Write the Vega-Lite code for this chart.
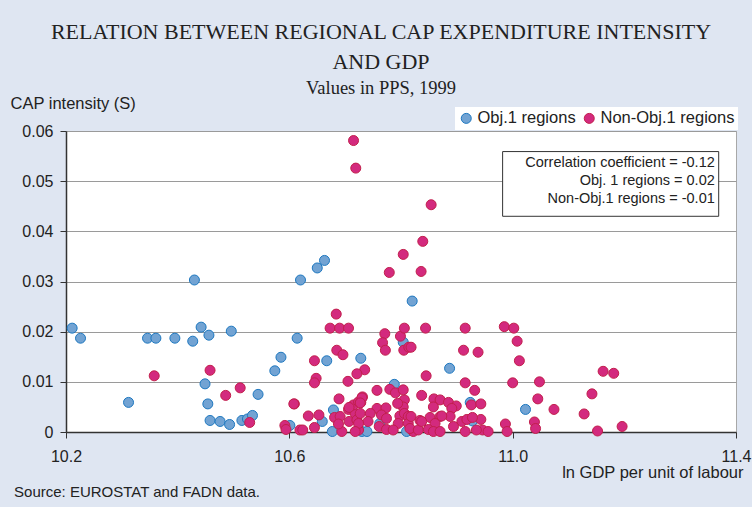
{
  "$schema": "https://vega.github.io/schema/vega-lite/v6.json",
  "width": 670,
  "height": 301,
  "autosize": {"type": "none"},
  "padding": {"left": 66, "top": 131, "right": 16, "bottom": 75},
  "background": "#dfe6f2",
  "title": {
    "text": ["RELATION BETWEEN REGIONAL CAP EXPENDITURE INTENSITY", "AND GDP"],
    "subtitle": "Values in PPS, 1999",
    "font": "Liberation Serif",
    "fontSize": 22,
    "fontWeight": "normal",
    "color": "#222222",
    "subtitleFont": "Liberation Serif",
    "subtitleFontSize": 18.5,
    "subtitleColor": "#222222",
    "lineHeight": 30,
    "subtitlePadding": 5,
    "anchor": "middle",
    "frame": "group",
    "dx": -20,
    "offset": -3
  },
  "config": {
    "font": "Liberation Sans",
    "view": {"stroke": "#a8a8a8", "fill": "white"},
    "axis": {
      "domainColor": "#333333",
      "domainWidth": 1.5,
      "tickColor": "#333333",
      "tickSize": 6,
      "labelFontSize": 16,
      "labelColor": "#222222",
      "titleFontSize": 16,
      "titleFontWeight": "normal",
      "titleColor": "#222222",
      "gridColor": "#9a9a9a",
      "gridWidth": 1
    }
  },
  "encoding": {
    "x": {
      "field": "x",
      "type": "quantitative",
      "scale": {"domain": [10.2, 11.4], "zero": false, "nice": false},
      "axis": {
        "values": [10.2, 10.6, 11.0, 11.4],
        "format": ".1f",
        "grid": false,
        "labelFlush": false,
        "labelPadding": 10,
        "title": "ln GDP per unit of labour",
        "titleFontSize": 16.5,
        "titleAnchor": "end",
        "titleAlign": "right",
        "titleBaseline": "alphabetic",
        "titleX": 677,
        "titleY": 45
      }
    },
    "y": {
      "field": "y",
      "type": "quantitative",
      "scale": {"domain": [0, 0.06], "nice": false},
      "axis": {
        "values": [0, 0.01, 0.02, 0.03, 0.04, 0.05, 0.06],
        "format": ".2~f",
        "grid": true,
        "labelPadding": 7,
        "labelFlush": false,
        "title": "CAP intensity (S)",
        "titleAngle": 0,
        "titleFontSize": 16.5,
        "titleAlign": "left",
        "titleBaseline": "alphabetic",
        "titleAnchor": "end",
        "titleX": -56,
        "titleY": -23
      }
    }
  },
  "layer": [
    {
      "data": {"values": [{"x": 10.982, "x2": 11.369, "y": 0.0559, "y2": 0.0430}]},
      "mark": {"type": "rect", "fill": "white", "stroke": "#333333", "strokeWidth": 1},
      "encoding": {
        "x2": {"field": "x2"},
        "y2": {"field": "y2"}
      }
    },
    {
      "data": {"values": [
        {"x": 10.211, "y": 0.0207, "group": "Obj.1 regions"},
        {"x": 10.226, "y": 0.0187, "group": "Obj.1 regions"},
        {"x": 10.312, "y": 0.0059, "group": "Obj.1 regions"},
        {"x": 10.346, "y": 0.0187, "group": "Obj.1 regions"},
        {"x": 10.361, "y": 0.0187, "group": "Obj.1 regions"},
        {"x": 10.395, "y": 0.0187, "group": "Obj.1 regions"},
        {"x": 10.427, "y": 0.0181, "group": "Obj.1 regions"},
        {"x": 10.430, "y": 0.0303, "group": "Obj.1 regions"},
        {"x": 10.442, "y": 0.0209, "group": "Obj.1 regions"},
        {"x": 10.456, "y": 0.0193, "group": "Obj.1 regions"},
        {"x": 10.496, "y": 0.0201, "group": "Obj.1 regions"},
        {"x": 10.449, "y": 0.0096, "group": "Obj.1 regions"},
        {"x": 10.454, "y": 0.0056, "group": "Obj.1 regions"},
        {"x": 10.458, "y": 0.0023, "group": "Obj.1 regions"},
        {"x": 10.476, "y": 0.0021, "group": "Obj.1 regions"},
        {"x": 10.493, "y": 0.0015, "group": "Obj.1 regions"},
        {"x": 10.515, "y": 0.0023, "group": "Obj.1 regions"},
        {"x": 10.525, "y": 0.0026, "group": "Obj.1 regions"},
        {"x": 10.534, "y": 0.0033, "group": "Obj.1 regions"},
        {"x": 10.544, "y": 0.0075, "group": "Obj.1 regions"},
        {"x": 10.574, "y": 0.0122, "group": "Obj.1 regions"},
        {"x": 10.585, "y": 0.0149, "group": "Obj.1 regions"},
        {"x": 10.614, "y": 0.0187, "group": "Obj.1 regions"},
        {"x": 10.620, "y": 0.0303, "group": "Obj.1 regions"},
        {"x": 10.601, "y": 0.0013, "group": "Obj.1 regions"},
        {"x": 10.650, "y": 0.0327, "group": "Obj.1 regions"},
        {"x": 10.663, "y": 0.0342, "group": "Obj.1 regions"},
        {"x": 10.667, "y": 0.0142, "group": "Obj.1 regions"},
        {"x": 10.728, "y": 0.0147, "group": "Obj.1 regions"},
        {"x": 10.820, "y": 0.0261, "group": "Obj.1 regions"},
        {"x": 10.804, "y": 0.0179, "group": "Obj.1 regions"},
        {"x": 10.887, "y": 0.0127, "group": "Obj.1 regions"},
        {"x": 10.788, "y": 0.0095, "group": "Obj.1 regions"},
        {"x": 10.924, "y": 0.0059, "group": "Obj.1 regions"},
        {"x": 10.928, "y": 0.0022, "group": "Obj.1 regions"},
        {"x": 10.679, "y": 0.0044, "group": "Obj.1 regions"},
        {"x": 10.659, "y": 0.0021, "group": "Obj.1 regions"},
        {"x": 10.677, "y": 0.0001, "group": "Obj.1 regions"},
        {"x": 10.730, "y": 0.0001, "group": "Obj.1 regions"},
        {"x": 10.739, "y": 0.0001, "group": "Obj.1 regions"},
        {"x": 10.762, "y": 0.0017, "group": "Obj.1 regions"},
        {"x": 10.810, "y": 0.0001, "group": "Obj.1 regions"},
        {"x": 11.023, "y": 0.0045, "group": "Obj.1 regions"},
        {"x": 10.358, "y": 0.0112, "group": "Non-Obj.1 regions"},
        {"x": 10.458, "y": 0.0123, "group": "Non-Obj.1 regions"},
        {"x": 10.486, "y": 0.0073, "group": "Non-Obj.1 regions"},
        {"x": 10.512, "y": 0.0088, "group": "Non-Obj.1 regions"},
        {"x": 10.529, "y": 0.0019, "group": "Non-Obj.1 regions"},
        {"x": 10.592, "y": 0.0013, "group": "Non-Obj.1 regions"},
        {"x": 10.594, "y": 0.0005, "group": "Non-Obj.1 regions"},
        {"x": 10.609, "y": 0.0056, "group": "Non-Obj.1 regions"},
        {"x": 10.619, "y": 0.0004, "group": "Non-Obj.1 regions"},
        {"x": 10.715, "y": 0.0581, "group": "Non-Obj.1 regions"},
        {"x": 10.719, "y": 0.0526, "group": "Non-Obj.1 regions"},
        {"x": 10.854, "y": 0.0453, "group": "Non-Obj.1 regions"},
        {"x": 10.839, "y": 0.0380, "group": "Non-Obj.1 regions"},
        {"x": 10.804, "y": 0.0354, "group": "Non-Obj.1 regions"},
        {"x": 10.779, "y": 0.0318, "group": "Non-Obj.1 regions"},
        {"x": 10.836, "y": 0.0320, "group": "Non-Obj.1 regions"},
        {"x": 10.684, "y": 0.0235, "group": "Non-Obj.1 regions"},
        {"x": 10.673, "y": 0.0207, "group": "Non-Obj.1 regions"},
        {"x": 10.690, "y": 0.0207, "group": "Non-Obj.1 regions"},
        {"x": 10.706, "y": 0.0207, "group": "Non-Obj.1 regions"},
        {"x": 10.771, "y": 0.0196, "group": "Non-Obj.1 regions"},
        {"x": 10.799, "y": 0.0191, "group": "Non-Obj.1 regions"},
        {"x": 10.806, "y": 0.0207, "group": "Non-Obj.1 regions"},
        {"x": 10.844, "y": 0.0207, "group": "Non-Obj.1 regions"},
        {"x": 10.915, "y": 0.0207, "group": "Non-Obj.1 regions"},
        {"x": 10.767, "y": 0.0178, "group": "Non-Obj.1 regions"},
        {"x": 10.772, "y": 0.0163, "group": "Non-Obj.1 regions"},
        {"x": 10.805, "y": 0.0163, "group": "Non-Obj.1 regions"},
        {"x": 10.814, "y": 0.0169, "group": "Non-Obj.1 regions"},
        {"x": 10.818, "y": 0.0169, "group": "Non-Obj.1 regions"},
        {"x": 10.912, "y": 0.0163, "group": "Non-Obj.1 regions"},
        {"x": 10.938, "y": 0.0159, "group": "Non-Obj.1 regions"},
        {"x": 10.685, "y": 0.0163, "group": "Non-Obj.1 regions"},
        {"x": 10.696, "y": 0.0154, "group": "Non-Obj.1 regions"},
        {"x": 10.645, "y": 0.0142, "group": "Non-Obj.1 regions"},
        {"x": 10.735, "y": 0.0124, "group": "Non-Obj.1 regions"},
        {"x": 10.721, "y": 0.0116, "group": "Non-Obj.1 regions"},
        {"x": 10.648, "y": 0.0107, "group": "Non-Obj.1 regions"},
        {"x": 10.645, "y": 0.0098, "group": "Non-Obj.1 regions"},
        {"x": 10.705, "y": 0.0101, "group": "Non-Obj.1 regions"},
        {"x": 10.845, "y": 0.0112, "group": "Non-Obj.1 regions"},
        {"x": 10.915, "y": 0.0098, "group": "Non-Obj.1 regions"},
        {"x": 10.932, "y": 0.0083, "group": "Non-Obj.1 regions"},
        {"x": 10.608, "y": 0.0056, "group": "Non-Obj.1 regions"},
        {"x": 10.689, "y": 0.0066, "group": "Non-Obj.1 regions"},
        {"x": 10.757, "y": 0.0083, "group": "Non-Obj.1 regions"},
        {"x": 10.780, "y": 0.0085, "group": "Non-Obj.1 regions"},
        {"x": 10.790, "y": 0.0078, "group": "Non-Obj.1 regions"},
        {"x": 10.837, "y": 0.0073, "group": "Non-Obj.1 regions"},
        {"x": 10.859, "y": 0.0066, "group": "Non-Obj.1 regions"},
        {"x": 10.870, "y": 0.0064, "group": "Non-Obj.1 regions"},
        {"x": 10.885, "y": 0.0059, "group": "Non-Obj.1 regions"},
        {"x": 10.899, "y": 0.0052, "group": "Non-Obj.1 regions"},
        {"x": 10.926, "y": 0.0054, "group": "Non-Obj.1 regions"},
        {"x": 10.943, "y": 0.0056, "group": "Non-Obj.1 regions"},
        {"x": 10.985, "y": 0.0210, "group": "Non-Obj.1 regions"},
        {"x": 11.002, "y": 0.0207, "group": "Non-Obj.1 regions"},
        {"x": 11.008, "y": 0.0181, "group": "Non-Obj.1 regions"},
        {"x": 11.012, "y": 0.0142, "group": "Non-Obj.1 regions"},
        {"x": 11.000, "y": 0.0098, "group": "Non-Obj.1 regions"},
        {"x": 11.048, "y": 0.0100, "group": "Non-Obj.1 regions"},
        {"x": 11.045, "y": 0.0066, "group": "Non-Obj.1 regions"},
        {"x": 11.074, "y": 0.0045, "group": "Non-Obj.1 regions"},
        {"x": 11.039, "y": 0.0020, "group": "Non-Obj.1 regions"},
        {"x": 11.041, "y": 0.0007, "group": "Non-Obj.1 regions"},
        {"x": 10.987, "y": 0.0016, "group": "Non-Obj.1 regions"},
        {"x": 10.990, "y": 0.0001, "group": "Non-Obj.1 regions"},
        {"x": 10.943, "y": 0.0025, "group": "Non-Obj.1 regions"},
        {"x": 10.946, "y": 0.0004, "group": "Non-Obj.1 regions"},
        {"x": 10.956, "y": 0.0001, "group": "Non-Obj.1 regions"},
        {"x": 11.142, "y": 0.0076, "group": "Non-Obj.1 regions"},
        {"x": 11.128, "y": 0.0036, "group": "Non-Obj.1 regions"},
        {"x": 11.162, "y": 0.0121, "group": "Non-Obj.1 regions"},
        {"x": 11.181, "y": 0.0117, "group": "Non-Obj.1 regions"},
        {"x": 11.152, "y": 0.0002, "group": "Non-Obj.1 regions"},
        {"x": 11.196, "y": 0.0011, "group": "Non-Obj.1 regions"},
        {"x": 10.634, "y": 0.0032, "group": "Non-Obj.1 regions"},
        {"x": 10.653, "y": 0.0034, "group": "Non-Obj.1 regions"},
        {"x": 10.624, "y": 0.0004, "group": "Non-Obj.1 regions"},
        {"x": 10.645, "y": 0.0009, "group": "Non-Obj.1 regions"},
        {"x": 10.694, "y": 0.0001, "group": "Non-Obj.1 regions"},
        {"x": 10.681, "y": 0.0029, "group": "Non-Obj.1 regions"},
        {"x": 10.691, "y": 0.0031, "group": "Non-Obj.1 regions"},
        {"x": 10.688, "y": 0.0016, "group": "Non-Obj.1 regions"},
        {"x": 10.706, "y": 0.0045, "group": "Non-Obj.1 regions"},
        {"x": 10.718, "y": 0.0037, "group": "Non-Obj.1 regions"},
        {"x": 10.707, "y": 0.0021, "group": "Non-Obj.1 regions"},
        {"x": 10.721, "y": 0.0024, "group": "Non-Obj.1 regions"},
        {"x": 10.724, "y": 0.0004, "group": "Non-Obj.1 regions"},
        {"x": 10.715, "y": 0.0054, "group": "Non-Obj.1 regions"},
        {"x": 10.724, "y": 0.0060, "group": "Non-Obj.1 regions"},
        {"x": 10.731, "y": 0.0070, "group": "Non-Obj.1 regions"},
        {"x": 10.728, "y": 0.0059, "group": "Non-Obj.1 regions"},
        {"x": 10.806, "y": 0.0064, "group": "Non-Obj.1 regions"},
        {"x": 10.804, "y": 0.0050, "group": "Non-Obj.1 regions"},
        {"x": 10.794, "y": 0.0057, "group": "Non-Obj.1 regions"},
        {"x": 10.757, "y": 0.0047, "group": "Non-Obj.1 regions"},
        {"x": 10.773, "y": 0.0048, "group": "Non-Obj.1 regions"},
        {"x": 10.745, "y": 0.0037, "group": "Non-Obj.1 regions"},
        {"x": 10.727, "y": 0.0037, "group": "Non-Obj.1 regions"},
        {"x": 10.765, "y": 0.0034, "group": "Non-Obj.1 regions"},
        {"x": 10.774, "y": 0.0027, "group": "Non-Obj.1 regions"},
        {"x": 10.741, "y": 0.0021, "group": "Non-Obj.1 regions"},
        {"x": 10.724, "y": 0.0017, "group": "Non-Obj.1 regions"},
        {"x": 10.798, "y": 0.0032, "group": "Non-Obj.1 regions"},
        {"x": 10.806, "y": 0.0037, "group": "Non-Obj.1 regions"},
        {"x": 10.813, "y": 0.0031, "group": "Non-Obj.1 regions"},
        {"x": 10.795, "y": 0.0017, "group": "Non-Obj.1 regions"},
        {"x": 10.813, "y": 0.0017, "group": "Non-Obj.1 regions"},
        {"x": 10.761, "y": 0.0011, "group": "Non-Obj.1 regions"},
        {"x": 10.774, "y": 0.0005, "group": "Non-Obj.1 regions"},
        {"x": 10.786, "y": 0.0004, "group": "Non-Obj.1 regions"},
        {"x": 10.822, "y": 0.0001, "group": "Non-Obj.1 regions"},
        {"x": 10.718, "y": 0.0001, "group": "Non-Obj.1 regions"},
        {"x": 10.858, "y": 0.0050, "group": "Non-Obj.1 regions"},
        {"x": 10.891, "y": 0.0047, "group": "Non-Obj.1 regions"},
        {"x": 10.818, "y": 0.0031, "group": "Non-Obj.1 regions"},
        {"x": 10.834, "y": 0.0023, "group": "Non-Obj.1 regions"},
        {"x": 10.852, "y": 0.0029, "group": "Non-Obj.1 regions"},
        {"x": 10.870, "y": 0.0031, "group": "Non-Obj.1 regions"},
        {"x": 10.888, "y": 0.0031, "group": "Non-Obj.1 regions"},
        {"x": 10.861, "y": 0.0017, "group": "Non-Obj.1 regions"},
        {"x": 10.909, "y": 0.0021, "group": "Non-Obj.1 regions"},
        {"x": 10.918, "y": 0.0025, "group": "Non-Obj.1 regions"},
        {"x": 10.816, "y": 0.0007, "group": "Non-Obj.1 regions"},
        {"x": 10.831, "y": 0.0004, "group": "Non-Obj.1 regions"},
        {"x": 10.849, "y": 0.0005, "group": "Non-Obj.1 regions"},
        {"x": 10.858, "y": 0.0001, "group": "Non-Obj.1 regions"},
        {"x": 10.870, "y": 0.0001, "group": "Non-Obj.1 regions"},
        {"x": 10.894, "y": 0.0011, "group": "Non-Obj.1 regions"},
        {"x": 10.915, "y": 0.0001, "group": "Non-Obj.1 regions"},
        {"x": 10.928, "y": 0.0029, "group": "Non-Obj.1 regions"},
        {"x": 10.935, "y": 0.0004, "group": "Non-Obj.1 regions"},
        {"x": 10.730, "y": 0.0068, "group": "Non-Obj.1 regions"},
        {"x": 10.727, "y": 0.0058, "group": "Non-Obj.1 regions"},
        {"x": 10.873, "y": 0.0032, "group": "Non-Obj.1 regions"},
        {"x": 10.837, "y": 0.0021, "group": "Non-Obj.1 regions"},
        {"x": 10.804, "y": 0.0084, "group": "Non-Obj.1 regions"},
        {"x": 10.707, "y": 0.0049, "group": "Non-Obj.1 regions"}
      ]},
      "mark": {"type": "point", "filled": true, "size": 100, "strokeWidth": 1, "opacity": 1, "strokeOpacity": 1, "fillOpacity": 1},
      "encoding": {
        "fill": {
          "field": "group",
          "type": "nominal",
          "scale": {"domain": ["Obj.1 regions", "Non-Obj.1 regions"], "range": ["#72a3d3", "#d32a7e"]},
          "legend": {
            "title": null,
            "orient": "none",
            "legendX": 389,
            "legendY": -24,
            "direction": "horizontal",
            "fillColor": "white",
            "padding": 3,
            "labelFontSize": 16.5,
            "labelColor": "#222222",
            "symbolType": "circle",
            "symbolSize": 100,
            "symbolStrokeWidth": 1,
            "columnPadding": 5,
            "labelOffset": 3
          }
        },
        "stroke": {
          "field": "group",
          "type": "nominal",
          "scale": {"domain": ["Obj.1 regions", "Non-Obj.1 regions"], "range": ["#1e78c0", "#c21f4c"]},
          "legend": {
            "title": null,
            "orient": "none",
            "legendX": 389,
            "legendY": -24,
            "direction": "horizontal",
            "fillColor": "white",
            "padding": 3,
            "labelFontSize": 16.5,
            "labelColor": "#222222",
            "symbolType": "circle",
            "symbolSize": 100,
            "symbolStrokeWidth": 1,
            "columnPadding": 5,
            "labelOffset": 3
          }
        }
      }
    },
    {
      "data": {"values": [
        {"x": 11.362, "y": 0.0528, "label": "Correlation coefficient = -0.12"},
        {"x": 11.362, "y": 0.0492, "label": "Obj. 1 regions = 0.02"},
        {"x": 11.362, "y": 0.0456, "label": "Non-Obj.1 regions = -0.01"}
      ]},
      "mark": {"type": "text", "align": "right", "baseline": "alphabetic", "fontSize": 14.5, "color": "#222222", "font": "Liberation Sans"},
      "encoding": {"text": {"field": "label"}}
    },
    {
      "data": {"values": [
        {"x": 10.107, "y": -0.0129, "label": "Source: EUROSTAT and FADN data."}
      ]},
      "mark": {"type": "text", "align": "left", "baseline": "alphabetic", "fontSize": 15, "color": "#222222", "font": "Liberation Sans"},
      "encoding": {"text": {"field": "label"}}
    }
  ]
}
